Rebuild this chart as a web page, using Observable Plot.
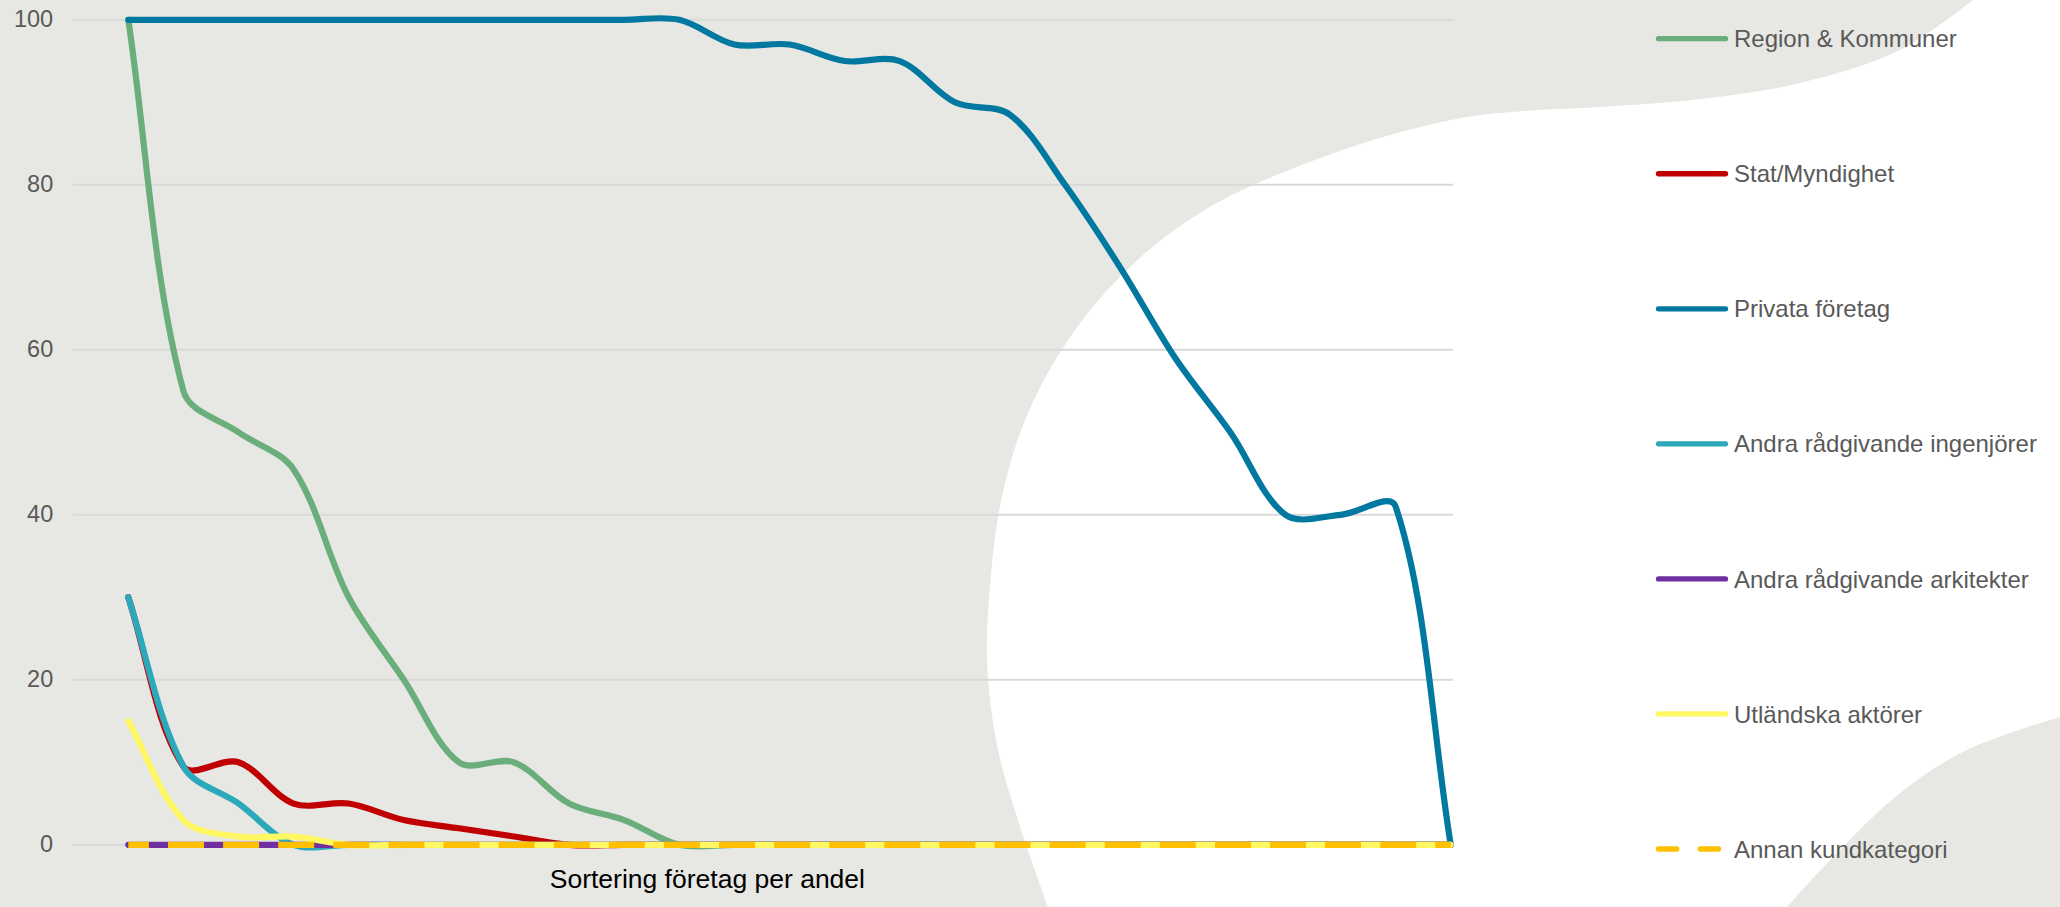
<!DOCTYPE html>
<html>
<head>
<meta charset="utf-8">
<script src="https://cdn.jsdelivr.net/npm/d3@7"></script>
<script src="https://cdn.jsdelivr.net/npm/@observablehq/plot@0.6"></script>
<style>
  html, body { margin: 0; padding: 0; background: #ffffff; }
  #wrap { position: relative; width: 2060px; height: 907px; overflow: hidden;
          font-family: "Liberation Sans", Arial, sans-serif; }
  #bg, #chart, #legend { position: absolute; left: 0; top: 0; }
  #legend { pointer-events: none; }
</style>
</head>
<body>
<div id="wrap">
  <svg id="bg" width="2060" height="907"></svg>
  <div id="chart"></div>
  <svg id="legend" width="2060" height="907"></svg>
</div>
<script>
// ---------------- DATA ----------------
const positions = d3.range(1, 26); // företag sorterade per andel (1..25)
const yTicks = [0, 20, 40, 60, 80, 100];
const xTitle = "Sortering företag per andel";

const seriesNames = [
  "Region & Kommuner",
  "Stat/Myndighet",
  "Privata företag",
  "Andra rådgivande ingenjörer",
  "Andra rådgivande arkitekter",
  "Utländska aktörer",
  "Annan kundkategori"
];
const seriesColors = ["#6AAE7C", "#C00000", "#0078A0", "#2BA9BA", "#7030A0", "#FFF862", "#FFC000"];

const regionKommuner = [100, 55, 50, 45.5, 30, 20, 10, 10, 5, 3, 0, 0, 0, 0, 0, 0, 0, 0, 0, 0, 0, 0, 0, 0, 0];
const statMyndighet  = [30, 9.5, 10, 5, 5, 3, 2, 1, 0, 0, 0, 0, 0, 0, 0, 0, 0, 0, 0, 0, 0, 0, 0, 0, 0];
const privataForetag = [100, 100, 100, 100, 100, 100, 100, 100, 100, 100, 100, 97, 97, 95, 95, 90, 88.5, 80, 70, 59, 50, 40, 40, 41, 0];
const andraIngenjorer = [30, 9.5, 5, 0, 0, 0, 0, 0, 0, 0, 0, 0, 0, 0, 0, 0, 0, 0, 0, 0, 0, 0, 0, 0, 0];
const andraArkitekter = [0, 0, 0, 0, 0, 0, 0, 0, 0, 0, 0, 0, 0, 0, 0, 0, 0, 0, 0, 0, 0, 0, 0, 0, 0];
const utlandskaAktorer = [15, 3, 1, 1, 0, 0, 0, 0, 0, 0, 0, 0, 0, 0, 0, 0, 0, 0, 0, 0, 0, 0, 0, 0, 0];
const annanKundkategori = [0, 0, 0, 0, 0, 0, 0, 0, 0, 0, 0, 0, 0, 0, 0, 0, 0, 0, 0, 0, 0, 0, 0, 0, 0];

const seriesValues = [regionKommuner, statMyndighet, privataForetag, andraIngenjorer,
                      andraArkitekter, utlandskaAktorer, annanKundkategori];

// ---------------- BACKGROUND DECORATION ----------------
(function drawBackground() {
  const bg = d3.select("#bg");
  bg.append("rect").attr("width", 2060).attr("height", 907).attr("fill", "#E7E7E3");
  const edge1 = [[1048, 907], [1017, 817], [997, 745], [987, 660], [990, 586], [999.3, 509.9],
                 [1019.1, 435.8], [1051.6, 366.3], [1095.6, 303.5], [1149.8, 249.3], [1212.6, 205.3],
                 [1282.1, 172.8], [1367, 142], [1433, 124], [1480, 115], [1540, 110], [1600, 107],
                 [1700, 99], [1800, 83], [1900, 50], [1973, 0]];
  const edge2 = [[2060, 717], [1967, 750], [1900, 793], [1833, 857], [1787, 907]];
  const ln = d3.line().curve(d3.curveCatmullRom.alpha(0.5));
  const p = ln(edge1) + "L2060,0" + ln(edge2).replace(/^M/, "L") + "Z";
  bg.append("path").attr("d", p).attr("fill", "#FFFFFF");
})();

// ---------------- EXCEL-LIKE SMOOTH CURVE ----------------
function excelSmooth(context) {
  let pts = [];
  return {
    areaStart() {}, areaEnd() {},
    lineStart() { pts = []; },
    point(x, y) { pts.push([+x, +y]); },
    lineEnd() {
      const n = pts.length;
      if (!n) return;
      context.moveTo(pts[0][0], pts[0][1]);
      for (let k = 0; k < n - 1; k++) {
        const p0 = pts[Math.max(k - 1, 0)], p1 = pts[k], p2 = pts[k + 1], p3 = pts[Math.min(k + 2, n - 1)];
        const d01 = Math.hypot(p1[0] - p0[0], p1[1] - p0[1]);
        const d12 = Math.hypot(p2[0] - p1[0], p2[1] - p1[1]);
        const d23 = Math.hypot(p3[0] - p2[0], p3[1] - p2[1]);
        const f1 = (d01 + d12) > 0 ? d12 / (3 * (d01 + d12)) : 0;
        const f2 = (d12 + d23) > 0 ? d12 / (3 * (d12 + d23)) : 0;
        const c1x = p1[0] + (p2[0] - p0[0]) * f1, c1y = p1[1] + (p2[1] - p0[1]) * f1;
        const c2x = p2[0] - (p3[0] - p1[0]) * f2, c2y = p2[1] - (p3[1] - p1[1]) * f2;
        context.bezierCurveTo(c1x, c1y, c2x, c2y, p2[0], p2[1]);
      }
    }
  };
}

// ---------------- CHART ----------------
const rows = seriesNames.map((name, s) =>
  seriesValues[s].map((v, i) => ({name, pos: positions[i], v})));

const lineMarks = seriesNames.map((name, s) => {
  const dashed = s === 6;
  return Plot.line(rows[s], {
    x: "pos", y: "v",
    stroke: seriesColors[s],
    strokeWidth: 6.2,
    curve: excelSmooth,
    strokeLinecap: dashed ? "butt" : "round",
    strokeLinejoin: "round",
    strokeDasharray: dashed ? "36,19.1" : null,
    strokeDashoffset: dashed ? 15.4 : null
  });
});

const chart = Plot.plot({
  width: 2060,
  height: 907,
  marginLeft: 72.7,
  marginRight: 607,
  marginTop: 19.3,
  marginBottom: 62.7,
  x: {domain: [0, 25.05], axis: null},
  y: {domain: [0, 100]},
  style: {
    background: "transparent",
    fontFamily: "'Liberation Sans', Arial, sans-serif",
    fontSize: "23.5px",
    color: "#595959",
    overflow: "visible"
  },
  marks: [
    Plot.ruleY(yTicks, {stroke: "#D9D9D9", strokeWidth: 2}),
    Plot.axisY(yTicks, {tickSize: 0, tickPadding: 20, label: null, fontSize: 23.5, fill: "#595959"}),
    ...lineMarks,
    Plot.text([xTitle], {frameAnchor: "bottom", dx: -56, dy: 43, fontSize: 26.5, fill: "#000000",
                         textAnchor: "middle"})
  ]
});
document.getElementById("chart").appendChild(chart);

// ---------------- LEGEND ----------------
(function drawLegend() {
  const lg = d3.select("#legend");
  seriesNames.forEach((name, s) => {
    const y = 38.7 + 135.05 * s;
    const dashed = s === 6;
    lg.append("line")
      .attr("x1", 1658.5).attr("x2", dashed ? 1718.5 : 1725.5)
      .attr("y1", y).attr("y2", y)
      .attr("stroke", seriesColors[s]).attr("stroke-width", 5.3)
      .attr("stroke-linecap", "round")
      .attr("stroke-dasharray", dashed ? "18.3,23.4" : null);
    lg.append("text")
      .attr("x", 1734).attr("y", y + 8.6)
      .attr("fill", "#595959")
      .attr("font-family", "'Liberation Sans', Arial, sans-serif")
      .attr("font-size", 24)
      .text(name);
  });
})();
</script>
</body>
</html>
